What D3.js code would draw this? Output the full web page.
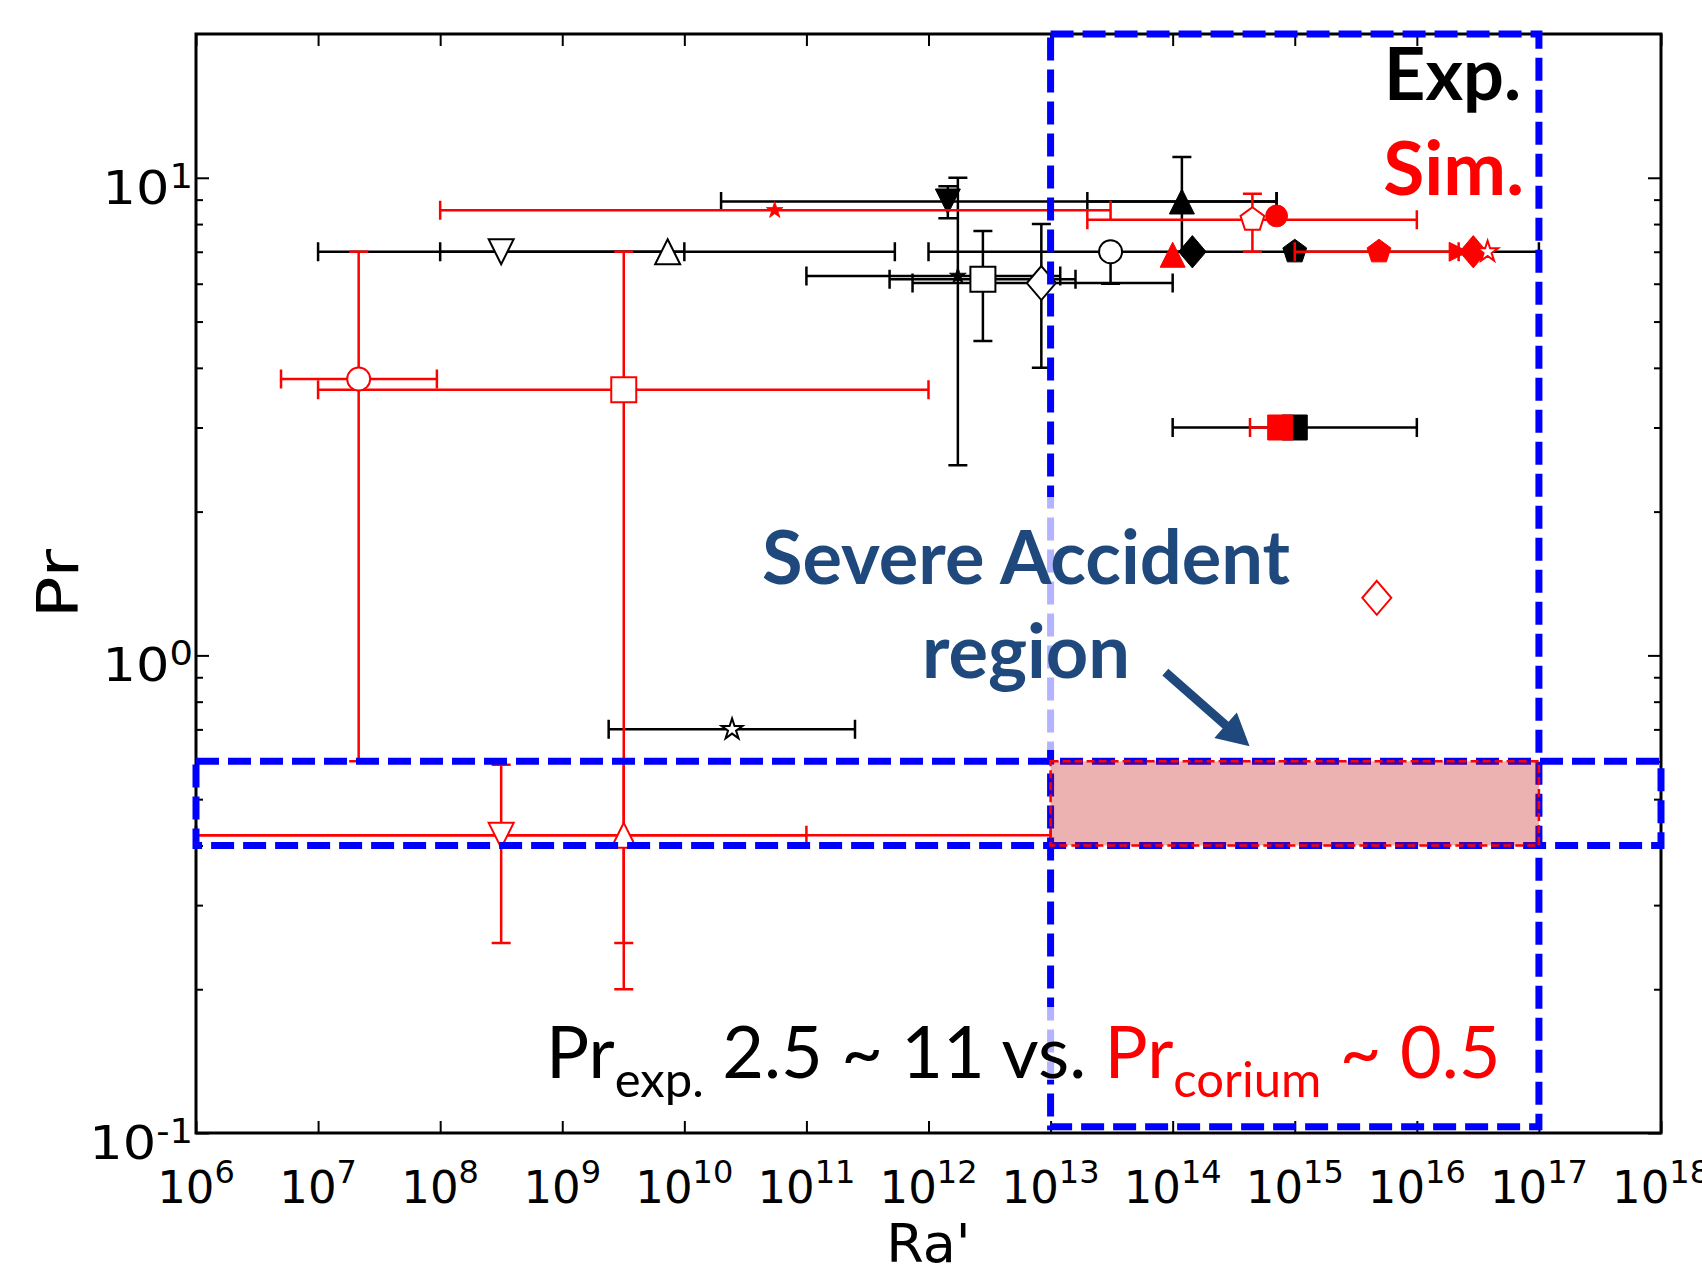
<!DOCTYPE html>
<html>
<head>
<meta charset="utf-8">
<script src="https://cdn.jsdelivr.net/npm/d3@7"></script>
<style>
  body { margin: 0; background: #fff; }
  text { font-family: "DejaVu Sans", sans-serif; }
  .note { font-family: Lato, "Open Sans", sans-serif; }
</style>
</head>
<body>
<script>
// decades on the axes
var raExponents = [6, 7, 8, 9, 10, 11, 12, 13, 14, 15, 16, 17, 18];
var prExponents = [-1, 0, 1];

var expRa     = [3.16e8, 7.3e9, 1.44e12, 1.74e12, 2.79e12, 8.4e12, 1.45e14, 3.1e13, 1.19e14, 1e15, 1e15, 2.46e10];
var expPr     = [7.0, 7.0, 8.92, 6.23, 6.13, 6.02, 7.0, 7.0, 8.92, 7.0, 3.0, 0.70];
var expRaErr  = [[1e7, 1e10], [1e8, 5.3e11], [2e10, 7.1e14], [1e11, 1.2e13], [4.8e11, 1.6e13], [7.4e11, 1e14],
                 [1e12, 1e17], null, [2e13, 7.1e14], null, [1e14, 1e16], [2.4e9, 2.5e11]];
var expPrErr  = [null, null, [8.23, 9.6], [2.5, 10], [4.55, 7.74], [4.0, 8.0], null, [6.0, 7.0], [7.0, 11.05], null, null, null];
var expMarker = ["triDown", "triUp", "triDownF", "starF", "square", "diamond", "diamondF", "circle", "triUpF", "pentagonF", "squareF", "star"];

// simulations (red)
var simRa     = [2.15e7, 3.19e9, 3.16e8, 3.19e9, 5.5e10, 4.5e14, 7.1e14, 1e14, 4.9e15, 2.2e16, 2.9e16, 3.8e16, 7.6e14, 4.7e15];
var simPr     = [3.79, 3.6, 0.42, 0.42, 8.55, 8.17, 8.32, 6.9, 7.0, 7.0, 7.0, 7.0, 3.0, 1.32];
var simRaErr  = [[4.97e6, 9.4e7], [1e7, 1e12], [1e6, 1e11], [1e6, 1e13], [1e8, 3.1e13], [2e13, 1e16], null, null,
                 [1e15, 2.2e16], null, null, null, [4.3e14, 7.6e14], null];
var simPrErr  = [[0.6, 7], [0.25, 7], [0.25, 0.59], [0.2, 0.6], null, [7.0, 9.26], null, null, null, null, null, null, null, null];
var simMarker = ["circle", "square", "triDown", "triUp", "starF", "pentagon", "circleF", "triUpF", "pentagonF", "triRightF", "diamondF", "star", "squareF", "diamond"];

// highlighted regions
var accidentRa = [1e13, 1e17];
var accidentPr = [0.4, 0.6];
var boxPrSpan  = [0.103, 20];
var arrowFrom  = [Math.pow(10, 13.94), 0.923];
var arrowTo    = [Math.pow(10, 14.63), 0.645];

var W = 1465, H = 1099;
var svg = d3.select("body").append("svg")
    .attr("width", 1702)
    .attr("height", 1278);

var g = svg.append("g").attr("transform", "translate(196,34)");

var x = d3.scaleLog().domain([1e6, 1e18]).range([0, W]);
var y = d3.scaleLog().domain([0.1, 20]).range([H, 0]);

var raMajor = raExponents.map(function(e){ return Math.pow(10, e); });
var prMajor = prExponents.map(function(e){ return Math.pow(10, e); });
var prMinor = [];
[0.1, 1, 10].forEach(function(b){
    for (var k = 2; k <= 9; k++) if (b * k < 20) prMinor.push(b * k);
});

// ticks, all pointing inward
function tickAxis(axis, tr) {
    var a = g.append("g").attr("transform", tr || null).call(axis);
    a.select(".domain").remove();
    a.selectAll("line").attr("stroke", "#000").attr("stroke-width", 2);
    a.selectAll("text").remove();
}
tickAxis(d3.axisBottom(x).tickValues(raMajor).tickSize(-12), "translate(0," + H + ")");
tickAxis(d3.axisTop(x).tickValues(raMajor).tickSize(-12));
tickAxis(d3.axisLeft(y).tickValues(prMajor).tickSize(-13));
tickAxis(d3.axisLeft(y).tickValues(prMinor).tickSize(-7));
tickAxis(d3.axisRight(y).tickValues(prMajor).tickSize(-13), "translate(" + W + ",0)");
tickAxis(d3.axisRight(y).tickValues(prMinor).tickSize(-7), "translate(" + W + ",0)");

// tick labels with superscripts
raExponents.forEach(function(e){
    var t = g.append("text")
        .attr("x", x(Math.pow(10, e)))
        .attr("y", H + 70)
        .attr("text-anchor", "middle")
        .attr("font-size", 45);
    t.append("tspan").text("10");
    t.append("tspan").attr("dy", -20).attr("font-size", 32).text(e);
});
prExponents.forEach(function(e){
    var t = g.append("g")
        .attr("transform", "translate(-3," + (y(Math.pow(10, e)) + 26) + ") scale(1.12,1)")
        .append("text")
        .attr("text-anchor", "end")
        .attr("font-size", 47);
    t.append("tspan").text("10");
    t.append("tspan").attr("dy", -16).attr("font-size", 33).text(e < 0 ? "-" + (-e) : e);
});

g.append("text")
    .attr("x", W / 2).attr("y", 1228)
    .attr("text-anchor", "middle")
    .attr("font-size", 54)
    .text("Ra'");
g.append("text")
    .attr("transform", "translate(-118," + (H / 2) + ") rotate(-90) scale(1.22,1)")
    .attr("text-anchor", "middle")
    .attr("font-size", 57)
    .text("Pr");

// marker shapes
function poly(pts) {
    return "M" + pts.map(function(p){ return p[0].toFixed(2) + "," + p[1].toFixed(2); }).join("L") + "Z";
}
function regular(n, r, rot) {
    var pts = [];
    for (var i = 0; i < n; i++) {
        var a = rot + i * 2 * Math.PI / n;
        pts.push([r * Math.sin(a), -r * Math.cos(a)]);
    }
    return pts;
}
function starPts(R) {
    var pts = [];
    for (var i = 0; i < 10; i++) {
        var r = i % 2 ? R * 0.382 : R;
        var a = i * Math.PI / 5;
        pts.push([r * Math.sin(a), -r * Math.cos(a)]);
    }
    return pts;
}
function markerPath(shape) {
    var s = shape.replace("F", "");
    if (s === "circle") return d3.symbol(d3.symbolCircle, Math.PI * 11.5 * 11.5)();
    if (s === "square") return poly([[-12.5, -12.5], [12.5, -12.5], [12.5, 12.5], [-12.5, 12.5]]);
    if (s === "triUp") return poly([[0, -12.5], [12.5, 12.5], [-12.5, 12.5]]);
    if (s === "triDown") return poly([[0, 12.5], [12.5, -12.5], [-12.5, -12.5]]);
    if (s === "triRight") return poly([[10, 0], [-10, -10], [-10, 10]]);
    if (s === "diamond") return poly([[0, -17], [14.5, 0], [0, 17], [-14.5, 0]]);
    if (s === "pentagon") return poly(regular(5, 12.5, 0));
    if (s === "star") return poly(starPts(11));
}
function markerScale(shape) {
    if (shape === "starF") return 0.8;
    if (shape === "circleF") return 0.95;
    if (shape === "triRightF" || shape === "diamondF") return 0.95;
    return 1;
}

function errPath(ra, pr, re, pe) {
    var cx = x(ra), cy = y(pr), c = 9.5, p = "";
    if (re) {
        var x0 = x(re[0]), x1 = x(re[1]);
        p += "M" + x0 + "," + cy + "H" + x1;
        p += "M" + x0 + "," + (cy - c) + "V" + (cy + c);
        p += "M" + x1 + "," + (cy - c) + "V" + (cy + c);
    }
    if (pe) {
        var y0 = y(pe[0]), y1 = y(pe[1]);
        p += "M" + cx + "," + y0 + "V" + y1;
        p += "M" + (cx - c) + "," + y0 + "H" + (cx + c);
        p += "M" + (cx - c) + "," + y1 + "H" + (cx + c);
    }
    return p;
}

function drawSeries(ra, pr, re, pe, mk, color) {
    var idx = d3.range(ra.length);
    g.append("g").selectAll("path").data(idx).join("path")
        .attr("d", function(i){ return errPath(ra[i], pr[i], re[i], pe[i]); })
        .attr("fill", "none")
        .attr("stroke", color)
        .attr("stroke-width", 2.5);
    g.append("g").selectAll("path").data(idx).join("path")
        .attr("d", function(i){ return markerPath(mk[i]); })
        .attr("transform", function(i){
            return "translate(" + x(ra[i]) + "," + y(pr[i]) + ") scale(" + markerScale(mk[i]) + ")";
        })
        .attr("fill", function(i){ return mk[i].slice(-1) === "F" ? color : "#fff"; })
        .attr("stroke", color)
        .attr("stroke-width", function(i){ return mk[i].slice(-1) === "F" ? 1 : 2; });
}
drawSeries(expRa, expPr, expRaErr, expPrErr, expMarker, "#000");
drawSeries(simRa, simPr, simRaErr, simPrErr, simMarker, "#ff0000");

// frame
g.append("rect")
    .attr("width", W).attr("height", H)
    .attr("fill", "none")
    .attr("stroke", "#000")
    .attr("stroke-width", 3);

// blue dashed boxes
g.append("rect")
    .attr("x", x(1e6)).attr("y", y(accidentPr[1]))
    .attr("width", x(1e18) - x(1e6))
    .attr("height", y(accidentPr[0]) - y(accidentPr[1]))
    .attr("fill", "none").attr("stroke", "#0000ff")
    .attr("stroke-width", 7).attr("stroke-dasharray", "23,9");
g.append("rect")
    .attr("x", x(accidentRa[0])).attr("y", y(boxPrSpan[1]))
    .attr("width", x(accidentRa[1]) - x(accidentRa[0]))
    .attr("height", y(boxPrSpan[0]) - y(boxPrSpan[1]))
    .attr("fill", "none").attr("stroke", "#0000ff")
    .attr("stroke-width", 7).attr("stroke-dasharray", "23,9");

// severe accident band
g.append("rect")
    .attr("x", x(accidentRa[0])).attr("y", y(accidentPr[1]))
    .attr("width", x(accidentRa[1]) - x(accidentRa[0]))
    .attr("height", y(accidentPr[0]) - y(accidentPr[1]))
    .attr("fill", "#c00000").attr("fill-opacity", 0.3)
    .attr("stroke", "#ff0000").attr("stroke-width", 2.5)
    .attr("stroke-dasharray", "8,4");

// half transparent text boxes of the slide
svg.append("rect").attr("x", 880).attr("y", 497).attr("width", 420).attr("height", 253)
    .attr("fill", "#fff").attr("fill-opacity", 0.7);
svg.append("rect").attr("x", 700).attr("y", 1007).attr("width", 805).attr("height", 73)
    .attr("fill", "#fff").attr("fill-opacity", 0.7);

// annotations
svg.append("text").attr("class", "note")
    .attr("x", 1026).attr("y", 584).attr("text-anchor", "middle")
    .attr("font-size", 74).attr("font-weight", "bold").attr("fill", "#1f497d")
    .text("Severe Accident");
svg.append("text").attr("class", "note")
    .attr("x", 1026).attr("y", 678).attr("text-anchor", "middle")
    .attr("font-size", 74).attr("font-weight", "bold").attr("fill", "#1f497d")
    .text("region");

svg.append("text").attr("class", "note")
    .attr("x", 1521).attr("y", 100).attr("text-anchor", "end")
    .attr("font-size", 72).attr("font-weight", "bold").attr("fill", "#000")
    .text("Exp.");
svg.append("text").attr("class", "note")
    .attr("x", 1524).attr("y", 195).attr("text-anchor", "end")
    .attr("font-size", 75).attr("font-weight", "bold").attr("fill", "#ff0000")
    .text("Sim.");

var cmp = svg.append("text").attr("class", "note")
    .attr("x", 546).attr("y", 1078)
    .attr("font-size", 72);
cmp.append("tspan").attr("fill", "#000").text("Pr");
cmp.append("tspan").attr("fill", "#000").attr("font-size", 49).attr("dy", 19).text("exp.");
cmp.append("tspan").attr("fill", "#000").attr("dy", -19).text(" 2.5 ~ 11 vs. ");
cmp.append("tspan").attr("fill", "#ff0000").text("Pr");
cmp.append("tspan").attr("fill", "#ff0000").attr("font-size", 49).attr("dy", 19).text("corium");
cmp.append("tspan").attr("fill", "#ff0000").attr("dy", -19).text(" ~ 0.5");

// arrow pointing at the band
var p0 = [196 + x(arrowFrom[0]), 34 + y(arrowFrom[1])];
var p1 = [196 + x(arrowTo[0]), 34 + y(arrowTo[1])];
var dx = p1[0] - p0[0], dy = p1[1] - p0[1], len = Math.sqrt(dx * dx + dy * dy);
var u = [dx / len, dy / len], n = [-u[1], u[0]];
var hb = [p1[0] - u[0] * 32, p1[1] - u[1] * 32];
function off(p, k) { return [p[0] + n[0] * k, p[1] + n[1] * k]; }
svg.append("path")
    .attr("d", poly([off(p0, 4.5), off(hb, 4.5), off(hb, 17), p1, off(hb, -17), off(hb, -4.5), off(p0, -4.5)]))
    .attr("fill", "#1f497d");
</script>
</body>
</html>
